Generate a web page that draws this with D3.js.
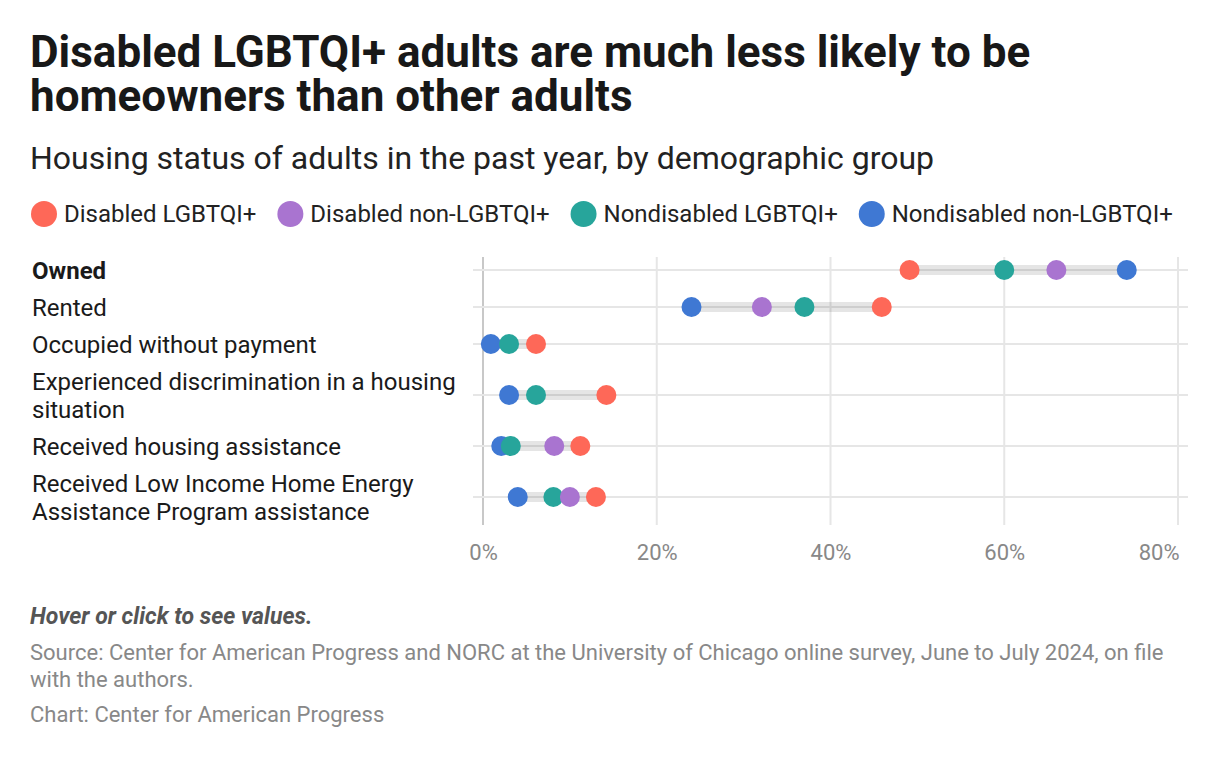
<!DOCTYPE html>
<html>
<head>
<meta charset="utf-8">
<script src="https://cdn.jsdelivr.net/npm/d3@7"></script>
<style>
  body { margin: 0; background: #fff; font-family: Roboto, "Noto Sans", sans-serif; }
</style>
</head>
<body>
<svg id="canvas"></svg>
<script>
// data
let categories = [
  "Owned",
  "Rented",
  "Occupied without payment",
  "Experienced discrimination in a housing situation",
  "Received housing assistance",
  "Received Low Income Home Energy Assistance Program assistance"
];
let groups = ["Disabled LGBTQI+", "Disabled non-LGBTQI+", "Nondisabled LGBTQI+", "Nondisabled non-LGBTQI+"];
let disabledLgbtqi = [49.1, 45.9, 6.1, 14.2, 11.2, 13.0];
let disabledNonLgbtqi = [66.0, 32.1, null, null, 8.2, 10.0];
let nondisabledLgbtqi = [60.0, 37.0, 3.0, 6.1, 3.2, 8.1];
let nondisabledNonLgbtqi = [74.1, 24.0, 0.9, 3.0, 2.1, 4.0];
let ticks = [0, 20, 40, 60, 80];

let colors = ["#fe6858", "#a974d0", "#27a59b", "#3f78d3"];
let series = [disabledLgbtqi, disabledNonLgbtqi, nondisabledLgbtqi, nondisabledNonLgbtqi];

let width = 1220;
let height = 758;
let canvas = d3.select("#canvas").attr("width", width).attr("height", height);

// titles
let title = canvas.append("text").attr("x", 30)
  .attr("font-size", 44).attr("font-weight", 700).attr("fill", "#181818");
title.append("tspan").attr("x", 30).attr("y", 67)
  .text("Disabled LGBTQI+ adults are much less likely to be");
title.append("tspan").attr("x", 30).attr("y", 111)
  .text("homeowners than other adults");
canvas.append("text").attr("x", 30).attr("y", 169)
  .attr("font-size", 32).attr("fill", "#222")
  .text("Housing status of adults in the past year, by demographic group");

// legend
let lx = 44;
groups.forEach((g, i) => {
  canvas.append("circle").attr("cx", lx).attr("cy", 214).attr("r", 13).attr("fill", colors[i]);
  let t = canvas.append("text").attr("x", lx + 20).attr("y", 222)
    .attr("font-size", 24).attr("fill", "#222").text(g);
  lx += 20 + t.node().getComputedTextLength() + 34;
});

// wrap labels
let labelLines = categories.map((c, i) => {
  let probe = canvas.append("text").attr("font-size", 24)
    .attr("font-weight", i == 0 ? 700 : 400);
  let words = c.split(" ");
  let lines = [];
  let cur = "";
  words.forEach((w) => {
    let test = cur ? cur + " " + w : w;
    probe.text(test);
    if (probe.node().getComputedTextLength() > 440 && cur) {
      lines.push(cur);
      cur = w;
    } else {
      cur = test;
    }
  });
  lines.push(cur);
  probe.remove();
  return lines;
});

// row positions from label heights
let rowY = [];
let yy = 270;
labelLines.forEach((lines, i) => {
  if (i > 0) {
    yy += 37 + 14 * (labelLines[i - 1].length - 1) + 14 * (lines.length - 1);
  }
  rowY.push(yy);
});
let yScale = d3.scaleOrdinal().domain(categories).range(rowY);
let xScale = d3.scaleLinear().domain([0, 80]).range([483, 1178]);

let gridTop = 257;
let gridBottom = 525;

// vertical grid
canvas.append("g").selectAll("line").data(ticks).enter().append("line")
  .attr("x1", (d) => xScale(d)).attr("x2", (d) => xScale(d))
  .attr("y1", gridTop).attr("y2", gridBottom)
  .attr("stroke", (d) => d == 0 ? "#c8c8c8" : "#e6e6e6").attr("stroke-width", 2);

// horizontal grid
canvas.append("g").selectAll("line").data(categories).enter().append("line")
  .attr("x1", 473).attr("x2", 1188)
  .attr("y1", (d) => yScale(d)).attr("y2", (d) => yScale(d))
  .attr("stroke", "#e6e6e6").attr("stroke-width", 2);

// x axis labels
let xAxis = d3.axisBottom(xScale).tickValues(ticks).tickFormat((d) => d + "%").tickSize(0);
let gx = canvas.append("g").attr("transform", "translate(0," + 541 + ")").call(xAxis);
gx.select(".domain").remove();
gx.selectAll("text").attr("font-size", 22).attr("fill", "#888").attr("font-family", "Roboto");
gx.selectAll(".tick").filter((d) => d == 80).select("text")
  .attr("text-anchor", "end").attr("x", 1);

// row labels
categories.forEach((c, i) => {
  let lines = labelLines[i];
  let t = canvas.append("text").attr("x", 32)
    .attr("font-size", 24).attr("fill", "#1a1a1a")
    .attr("font-weight", i == 0 ? 700 : 400);
  lines.forEach((l, j) => {
    t.append("tspan").attr("x", 32)
      .attr("y", yScale(c) + 8.5 + (j - (lines.length - 1) / 2) * 28)
      .text(l);
  });
});

// range bars
let rows = categories.map((c, i) => {
  let vals = series.map((s) => s[i]).filter((v) => v != null);
  return { cat: c, min: d3.min(vals), max: d3.max(vals) };
});
canvas.append("g").selectAll("rect").data(rows).enter().append("rect")
  .attr("x", (d) => xScale(d.min)).attr("width", (d) => xScale(d.max) - xScale(d.min))
  .attr("y", (d) => yScale(d.cat) - 5).attr("height", 10)
  .attr("fill", "#000").attr("opacity", 0.1);

// dots, drawn blue first so red sits on top
[3, 2, 1, 0].forEach((k) => {
  let pts = categories.map((c, i) => ({ cat: c, v: series[k][i] })).filter((d) => d.v != null);
  canvas.append("g").selectAll("circle").data(pts).enter().append("circle")
    .attr("cx", (d) => xScale(d.v)).attr("cy", (d) => yScale(d.cat))
    .attr("r", 10).attr("fill", colors[k]);
});

// footer
canvas.append("text").attr("x", 30).attr("y", 624)
  .attr("font-size", 23).attr("font-weight", 700).attr("font-style", "italic").attr("fill", "#555")
  .text("Hover or click to see values.");
canvas.append("text").attr("x", 30).attr("y", 660)
  .attr("font-size", 22).attr("fill", "#888")
  .text("Source: Center for American Progress and NORC at the University of Chicago online survey, June to July 2024, on file");
canvas.append("text").attr("x", 30).attr("y", 687)
  .attr("font-size", 22).attr("fill", "#888")
  .text("with the authors.");
canvas.append("text").attr("x", 30).attr("y", 722)
  .attr("font-size", 22).attr("fill", "#888")
  .text("Chart: Center for American Progress");
</script>
</body>
</html>
